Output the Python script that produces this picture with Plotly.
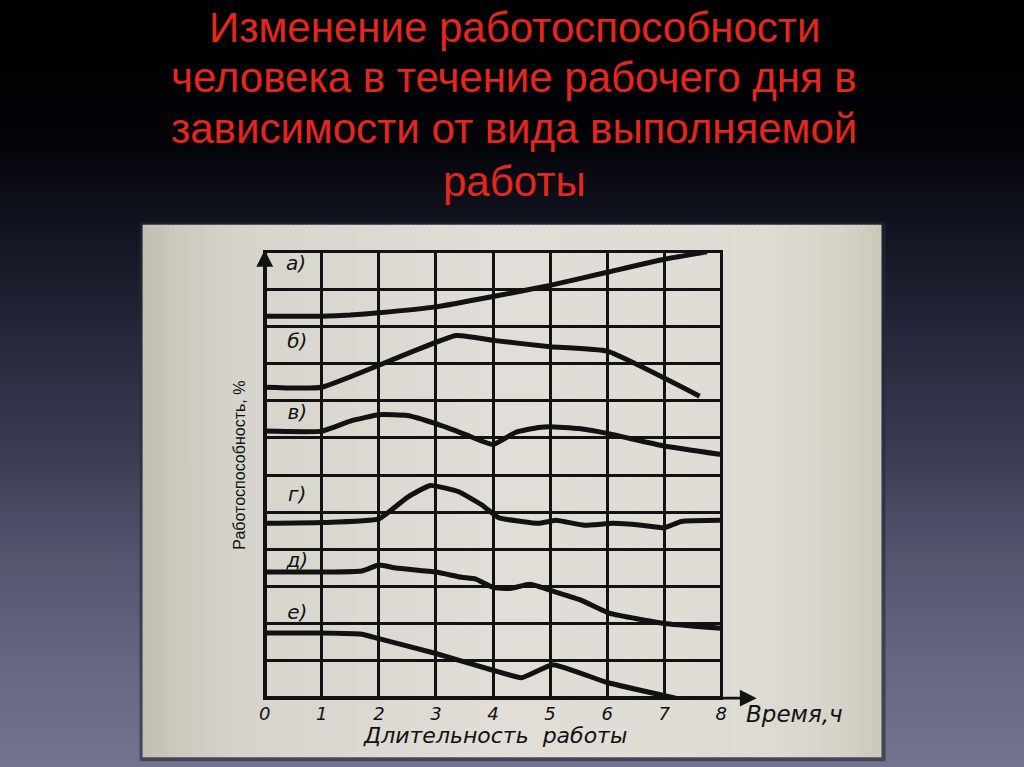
import plotly.graph_objects as go

# ---------------- data ----------------
hours = list(range(9))                       # x tick values 0..8
hour_labels = [str(h) for h in hours]
levels = list(range(13))                     # horizontal grid 0..12

curve_names = ["а)", "б)", "в)", "г)", "д)", "е)"]

a_x = [0, 1, 1.5, 2, 3, 4, 5, 6, 7, 7.75]
a_y = [10.27, 10.27, 10.3, 10.36, 10.52, 10.8, 11.1, 11.45, 11.8, 12.0]

b_x = [0, 1, 3.35, 4, 5, 6, 7.62]
b_y = [8.36, 8.36, 9.75, 9.62, 9.45, 9.33, 8.12]

v_x = [0, 1, 1.5, 2, 2.5, 3, 3.5, 4, 4.4, 4.8, 5, 5.5, 6, 7, 8]
v_y = [7.18, 7.18, 7.45, 7.62, 7.6, 7.38, 7.1, 6.82, 7.15, 7.28, 7.3, 7.25, 7.12, 6.78, 6.55]

g_x = [0, 1, 2, 2.5, 2.9, 3.4, 3.8, 4.1, 4.5, 4.8, 5.1, 5.6, 6.1, 6.6, 7, 7.3, 8]
g_y = [4.7, 4.72, 4.82, 5.4, 5.72, 5.55, 5.2, 4.85, 4.75, 4.7, 4.78, 4.65, 4.7, 4.65, 4.58, 4.75, 4.78]

d_x = [0, 1, 1.7, 2, 2.3, 3, 3.45, 3.7, 4, 4.3, 4.65, 5.1, 5.55, 6.05, 7.05, 8]
d_y = [3.39, 3.39, 3.42, 3.58, 3.5, 3.39, 3.25, 3.2, 2.98, 2.95, 3.06, 2.85, 2.63, 2.28, 2.0, 1.88]

e_x = [0, 1, 1.7, 2, 3, 4, 4.5, 5.05, 6, 7.2]
e_y = [1.75, 1.75, 1.72, 1.6, 1.2, 0.75, 0.55, 0.9, 0.42, 0.0]

curves = [(a_x, a_y), (b_x, b_y), (v_x, v_y), (g_x, g_y), (d_x, d_y), (e_x, e_y)]

label_x = [0.55, 0.57, 0.57, 0.57, 0.57, 0.57]
label_y = [11.64, 9.54, 7.63, 5.43, 3.66, 2.26]

title_lines = ["Изменение работоспособности",
               "человека в течение рабочего дня в",
               "зависимости от вида выполняемой",
               "работы"]
x_title = "Длительность  работы"
x_unit = "Время,ч"
y_title = "Работоспособность, %"

# ---------------- geometry ----------------
W, H = 1024, 767
X0PX, X8PX = 265, 721
Y0PX, Y12PX = 698, 252
XR = [-0.03, 8.03]
YR = [-0.05, 12.05]
ppx = (X8PX - X0PX) / 8
ppy = (Y0PX - Y12PX) / 12
mL = X0PX + XR[0] * ppx
mR = W - (X0PX + XR[1] * ppx)
mT = Y0PX - YR[1] * ppy
mB = H - (Y0PX - YR[0] * ppy)
pw = W - mL - mR
ph = H - mT - mB


def px(x):
    return (x - mL) / pw


def py(y):
    return (H - mB - y) / ph


def lerp_color(stops, t):
    for (t0, c0), (t1, c1) in zip(stops, stops[1:]):
        if t0 <= t <= t1:
            f = (t - t0) / (t1 - t0) if t1 > t0 else 0
            return tuple(int(round(c0[i] + f * (c1[i] - c0[i]))) for i in range(3))
    return stops[-1][1]


shapes = []
# background gradient
bg_stops = [(0, (0, 0, 0)), (140, (3, 3, 8)), (230, (18, 20, 33)), (330, (36, 38, 57)),
            (450, (58, 60, 83)), (560, (84, 86, 112)), (660, (100, 102, 130)), (767, (113, 115, 143))]
N = 96
for i in range(N):
    y0 = H * i / N
    y1 = H * (i + 1) / N + 1
    c = lerp_color(bg_stops, (y0 + y1) / 2)
    shapes.append(dict(type="rect", xref="paper", yref="paper", layer="below",
                       x0=px(-2), x1=px(W + 2), y0=py(y0), y1=py(y1),
                       fillcolor="rgb(%d,%d,%d)" % c, line=dict(width=0)))
# panel shadow
shapes.append(dict(type="rect", xref="paper", yref="paper", layer="below",
                   x0=px(140), x1=px(885), y0=py(222), y1=py(761),
                   fillcolor="rgba(40,40,55,0.6)", line=dict(width=0)))
# panel (photo of paper) with slight horizontal shading
pan_stops = [(143, (192, 190, 176)), (175, (203, 201, 190)), (240, (214, 212, 203)),
             (500, (224, 222, 214)), (760, (222, 220, 211)), (845, (213, 211, 200)), (881, (202, 199, 186))]
M = 160
PX0, PX1 = 143, 881
for i in range(M):
    x0 = PX0 + (PX1 - PX0) * i / M
    x1 = PX0 + (PX1 - PX0) * (i + 1) / M + 0.8
    c = lerp_color(pan_stops, (x0 + x1) / 2)
    shapes.append(dict(type="rect", xref="paper", yref="paper", layer="below",
                       x0=px(x0), x1=px(min(x1, PX1)), y0=py(225), y1=py(757),
                       fillcolor="rgb(%d,%d,%d)" % c, line=dict(width=0)))

fig = go.Figure()

INK = "#121212"
for (cx, cy), name in zip(curves, curve_names):
    fig.add_trace(go.Scatter(x=cx, y=cy, mode="lines", name=name,
                             line=dict(color=INK, width=5, shape="spline", smoothing=0.4),
                             showlegend=False, hoverinfo="skip"))

fig.add_trace(go.Scatter(x=label_x, y=label_y, mode="text", text=curve_names,
                         textfont=dict(family="DejaVu Sans", size=20, color=INK, style="italic"),
                         showlegend=False, hoverinfo="skip"))

annotations = []
title_y = [28, 78, 129, 182]
for line, ty in zip(title_lines, title_y):
    annotations.append(dict(xref="paper", yref="paper", x=px(514), y=py(ty), text=line,
                            showarrow=False, xanchor="center", yanchor="middle",
                            font=dict(family="Liberation Sans, Arial", size=42, color="#e5261f")))

# axis arrows
annotations.append(dict(xref="x", yref="y", axref="x", ayref="y", x=8.62, y=0, ax=7.9, ay=0,
                        text="", showarrow=True, arrowhead=2, arrowsize=1.2, arrowwidth=2.8,
                        arrowcolor=INK))
annotations.append(dict(xref="x", yref="y", axref="x", ayref="y", x=0, y=12.05, ax=0, ay=11.5,
                        text="", showarrow=True, arrowhead=2, arrowsize=1.2, arrowwidth=2.8,
                        arrowcolor=INK))

annotations.append(dict(xref="paper", yref="paper", x=px(744), y=py(714), text=x_unit,
                        showarrow=False, xanchor="left", yanchor="middle",
                        font=dict(family="DejaVu Sans", size=23, color=INK, style="italic")))
annotations.append(dict(xref="paper", yref="paper", x=px(495), y=py(735), text=x_title,
                        showarrow=False, xanchor="center", yanchor="middle",
                        font=dict(family="DejaVu Sans", size=22, color=INK, style="italic")))
annotations.append(dict(xref="paper", yref="paper", x=px(240), y=py(465), text=y_title,
                        showarrow=False, xanchor="center", yanchor="middle", textangle=-90,
                        font=dict(family="Liberation Sans, Arial", size=16, color=INK)))

fig.update_layout(
    width=W, height=H,
    margin=dict(l=mL, r=mR, t=mT, b=mB, autoexpand=False),
    paper_bgcolor="#000000",
    plot_bgcolor="rgba(0,0,0,0)",
    shapes=shapes,
    annotations=annotations,
    xaxis=dict(range=XR, tickvals=hours, ticktext=hour_labels, showgrid=True,
               gridcolor=INK, gridwidth=3, zeroline=True, zerolinecolor=INK, zerolinewidth=3.8,
               ticks="", ticklabelstandoff=1,
               tickfont=dict(family="DejaVu Sans", size=18, color=INK, style="italic"),
               fixedrange=True),
    yaxis=dict(range=YR, tickvals=levels, showticklabels=False, showgrid=True,
               gridcolor=INK, gridwidth=2.6, zeroline=True, zerolinecolor=INK, zerolinewidth=3.8,
               fixedrange=True),
)

fig.write_html("out.html", config={"displayModeBar": False},
               post_script="document.body.style.margin='0';document.body.style.background='#000';")
